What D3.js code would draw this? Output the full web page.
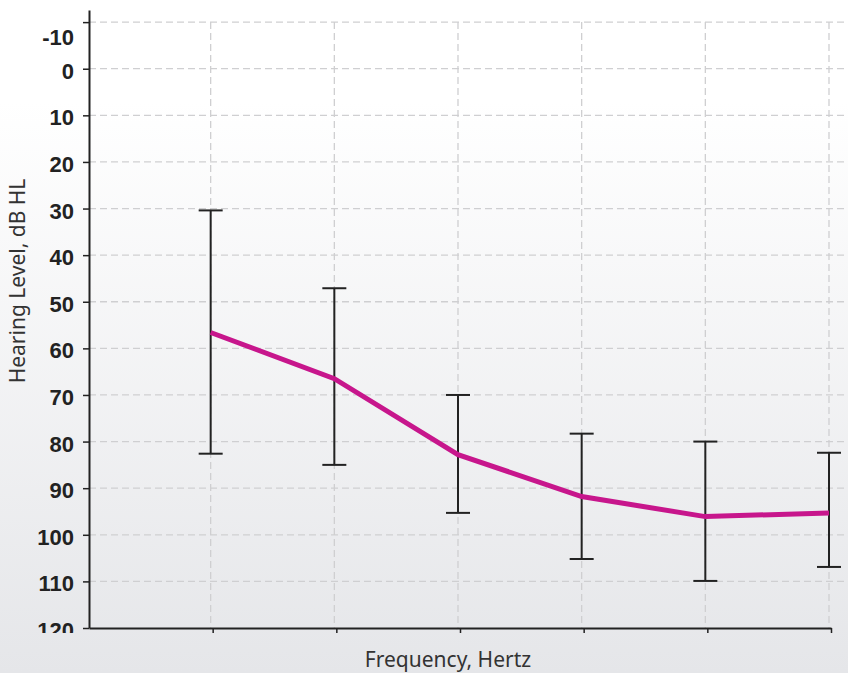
<!DOCTYPE html>
<html>
<head>
<meta charset="utf-8">
<script src="https://cdn.jsdelivr.net/npm/d3@7"></script>
<style>
	body { margin: 0; }
	svg { display: block; }
</style>
</head>
<body>
<div id="vis"></div>
<script>
// data
const FREQS = ["250", "500", "1000", "2000", "4000", "8000"];
const MEANS = [56.6, 66.5, 82.8, 91.8, 96.1, 95.3];
const LOWS = [30.4, 47.1, 70.0, 78.3, 80.0, 82.4];
const HIGHS = [82.6, 85.0, 95.3, 105.2, 109.9, 106.9];
const Y_TICKS = [-10, 0, 10, 20, 30, 40, 50, 60, 70, 80, 90, 100, 110, 120];

// frame
const FRAME_WIDTH = 848;
const FRAME_HEIGHT = 673;
const MARGINS = {left: 89, right: 0, top: 10, bottom: 45};

const SVG = d3.select("#vis")
	.append("svg")
		.attr("width", FRAME_WIDTH)
		.attr("height", FRAME_HEIGHT);

// background gradient
const grad = SVG.append("defs")
	.append("linearGradient")
		.attr("id", "bg")
		.attr("x1", 0).attr("y1", 0)
		.attr("x2", 0).attr("y2", 1);
grad.append("stop").attr("offset", "0.15").attr("stop-color", "#ffffff");
grad.append("stop").attr("offset", "1").attr("stop-color", "#e5e6e9");

// clip for the y labels (bottom label is cut off in the original)
SVG.select("defs").append("clipPath")
		.attr("id", "labelclip")
	.append("rect")
		.attr("x", -200).attr("y", 0)
		.attr("width", 400).attr("height", 633);

SVG.append("rect")
	.attr("width", FRAME_WIDTH)
	.attr("height", FRAME_HEIGHT)
	.attr("fill", "url(#bg)");

// scales
const X_SCALE = d3.scaleLinear()
	.domain([0, 6])
	.range([MARGINS.left, 831]);

const Y_SCALE = d3.scaleLinear()
	.domain([-12.6, 120])
	.range([MARGINS.top, FRAME_HEIGHT - MARGINS.bottom]);

const Y0 = Y_SCALE(120);

// grid
SVG.append("g")
	.selectAll("line")
	.data(Y_TICKS.slice(0, -1))
	.enter()
	.append("line")
		.attr("x1", MARGINS.left)
		.attr("x2", FRAME_WIDTH)
		.attr("y1", (d) => Y_SCALE(d))
		.attr("y2", (d) => Y_SCALE(d))
		.attr("stroke", "#cfcfd1")
		.attr("stroke-width", 1.3)
		.attr("stroke-dasharray", "7,4");

SVG.append("g")
	.selectAll("line")
	.data(FREQS)
	.enter()
	.append("line")
		.attr("x1", (d, i) => X_SCALE(i + 1) - 2)
		.attr("x2", (d, i) => X_SCALE(i + 1) - 2)
		.attr("y1", Y_SCALE(-10))
		.attr("y2", Y0)
		.attr("stroke", "#cfcfd1")
		.attr("stroke-width", 1.3)
		.attr("stroke-dasharray", "7,4");

// y axis
const yAxis = SVG.append("g")
	.attr("transform", "translate(" + MARGINS.left + ",0)")
	.attr("clip-path", "url(#labelclip)")
	.call(d3.axisLeft(Y_SCALE).tickValues(Y_TICKS).tickFormat((d) => String(d)).tickSize(6).tickSizeOuter(0));
yAxis.select(".domain").attr("stroke", "#222").attr("stroke-width", 2);
yAxis.selectAll(".tick line").attr("stroke", "#222").attr("stroke-width", 1.5);
yAxis.selectAll(".tick text")
	.attr("font-family", "Liberation Sans, Arial, sans-serif")
	.attr("font-weight", "bold")
	.attr("font-size", "22px")
	.attr("fill", "#222")
	.attr("x", -15)
	.attr("dy", (d) => d == -10 ? "1.03em" : "0.43em");

// x axis
const xAxis = SVG.append("g")
	.attr("transform", "translate(0," + Y0 + ")")
	.call(d3.axisBottom(X_SCALE).tickValues([1, 2, 3, 4, 5, 6]).tickFormat("").tickSize(5).tickSizeOuter(0));
xAxis.select(".domain").attr("stroke", "#222").attr("stroke-width", 2);
xAxis.selectAll(".tick line").attr("stroke", "#222").attr("stroke-width", 1.5);

// error bars
const bars = SVG.append("g")
	.selectAll("g")
	.data(FREQS)
	.enter()
	.append("g");

bars.append("line")
	.attr("x1", (d, i) => X_SCALE(i + 1) - 2)
	.attr("x2", (d, i) => X_SCALE(i + 1) - 2)
	.attr("y1", (d, i) => Y_SCALE(LOWS[i]))
	.attr("y2", (d, i) => Y_SCALE(HIGHS[i]))
	.attr("stroke", "#222")
	.attr("stroke-width", 2);

[LOWS, HIGHS].forEach((arr) => {
	bars.append("line")
		.attr("x1", (d, i) => X_SCALE(i + 1) - 14)
		.attr("x2", (d, i) => X_SCALE(i + 1) + 10)
		.attr("y1", (d, i) => Y_SCALE(arr[i]))
		.attr("y2", (d, i) => Y_SCALE(arr[i]))
		.attr("stroke", "#222")
		.attr("stroke-width", 2);
});

// mean line
const line = d3.line()
	.x((d, i) => X_SCALE(i + 1) - 2)
	.y((d) => Y_SCALE(d));

SVG.append("path")
	.datum(MEANS)
	.attr("d", line)
	.attr("fill", "none")
	.attr("stroke", "#c7168c")
	.attr("stroke-width", 5);

// axis titles
SVG.append("text")
	.attr("x", 448)
	.attr("y", 667)
	.attr("text-anchor", "middle")
	.attr("font-family", "Noto Sans, sans-serif")
	.attr("font-size", "21px")
	.attr("fill", "#333")
	.text("Frequency, Hertz");

SVG.append("text")
	.attr("transform", "translate(25,281) rotate(-90)")
	.attr("text-anchor", "middle")
	.attr("font-family", "Noto Sans, sans-serif")
	.attr("font-size", "21px")
	.attr("fill", "#333")
	.text("Hearing Level, dB HL");
</script>
</body>
</html>
